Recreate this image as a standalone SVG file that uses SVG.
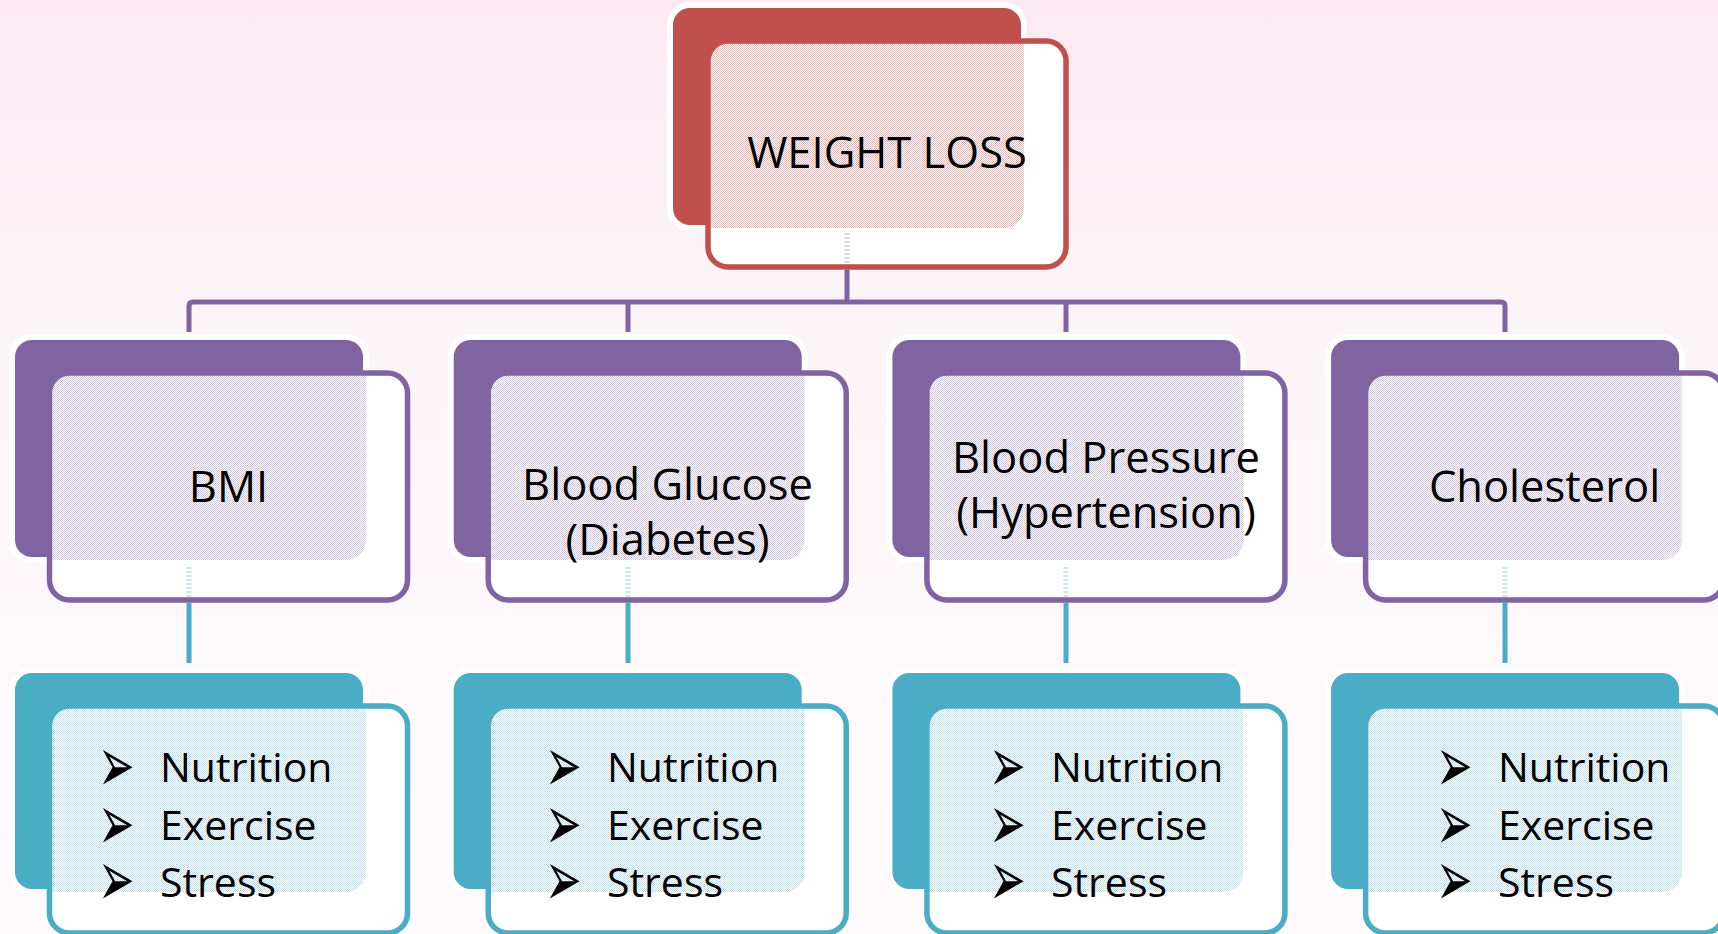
<svg xmlns="http://www.w3.org/2000/svg" width="1718" height="934" viewBox="0 0 1718 934">
<defs>
<linearGradient id="bg" x1="0" y1="0" x2="0" y2="1">
<stop offset="0" stop-color="#FCE9F3"/>
<stop offset="0.3" stop-color="#FBF4F6"/>
<stop offset="1" stop-color="#FFFBFC"/>
</linearGradient>
<pattern id="pR" width="2" height="2" patternUnits="userSpaceOnUse"><rect width="1" height="1" fill="#C0504D" fill-opacity=".4"/><rect x="1" y="1" width="1" height="1" fill="#C0504D" fill-opacity=".4"/></pattern>
<pattern id="pP" width="2" height="2" patternUnits="userSpaceOnUse"><rect width="1" height="1" fill="#8064A2" fill-opacity=".35"/><rect x="1" y="1" width="1" height="1" fill="#8064A2" fill-opacity=".35"/></pattern>
<pattern id="pT" width="2" height="2" patternUnits="userSpaceOnUse"><rect width="1" height="1" fill="#4BACC6" fill-opacity=".35"/><rect x="1" y="1" width="1" height="1" fill="#4BACC6" fill-opacity=".35"/></pattern>
<clipPath id="c0"><rect x="708" y="41" width="358" height="226" rx="20"/></clipPath>
<clipPath id="c1"><rect x="49.5" y="373" width="358" height="227" rx="20"/></clipPath>
<clipPath id="c2"><rect x="488.2" y="373" width="358" height="227" rx="20"/></clipPath>
<clipPath id="c3"><rect x="926.9" y="373" width="358" height="227" rx="20"/></clipPath>
<clipPath id="c4"><rect x="1365.6" y="373" width="358" height="227" rx="20"/></clipPath>
<clipPath id="c5"><rect x="49.5" y="706" width="358" height="227" rx="20"/></clipPath>
<clipPath id="c6"><rect x="488.2" y="706" width="358" height="227" rx="20"/></clipPath>
<clipPath id="c7"><rect x="926.9" y="706" width="358" height="227" rx="20"/></clipPath>
<clipPath id="c8"><rect x="1365.6" y="706" width="358" height="227" rx="20"/></clipPath>
</defs>
<style>
.halo{stroke:#fff;stroke-width:6}
.front{fill:#fff}
.edge{fill:none;stroke-width:5.5}
.red{fill:#C0504D}.pur{fill:#8064A2}.teal{fill:#4BACC6}
.sred{stroke:#C0504D}.spur{stroke:#8064A2}.steal{stroke:#4BACC6}
.t{font-family:"Open Sans","Liberation Sans",sans-serif;font-size:43.5px;fill:#000;text-anchor:middle}
.b{font-family:"Open Sans","Liberation Sans",sans-serif;font-size:41px;fill:#000}
.bul{font-family:"DejaVu Sans",sans-serif;font-size:54px;fill:#000}
.ln{fill:none;stroke-width:5}
.faint{stroke-opacity:.3;stroke-dasharray:2 2}
</style>
<rect width="1718" height="934" fill="url(#bg)"/>

<g id="weight-loss">
<rect class="red halo" x="670" y="5" width="354" height="223" rx="20"/>
<rect class="front" x="708" y="41" width="358" height="226" rx="20"/>
<rect x="670" y="5" width="354" height="223" rx="20" fill="url(#pR)" clip-path="url(#c0)"/>
<rect class="edge sred" x="708" y="41" width="358" height="226" rx="20"/>
<text class="t" x="887" y="168">WEIGHT LOSS</text>
</g>

<g id="bmi">
<rect class="pur halo" x="12" y="337" width="354" height="223" rx="20"/>
<rect class="front" x="49.5" y="373" width="358" height="227" rx="20"/>
<rect x="12" y="337" width="354" height="223" rx="20" fill="url(#pP)" clip-path="url(#c1)"/>
<rect class="edge spur" x="49.5" y="373" width="358" height="227" rx="20"/>
<text class="t" x="228.5" y="502">BMI</text>
</g>

<g id="blood-glucose">
<rect class="pur halo" x="450.7" y="337" width="354" height="223" rx="20"/>
<rect class="front" x="488.2" y="373" width="358" height="227" rx="20"/>
<rect x="450.7" y="337" width="354" height="223" rx="20" fill="url(#pP)" clip-path="url(#c2)"/>
<rect class="edge spur" x="488.2" y="373" width="358" height="227" rx="20"/>
<text class="t" x="667.5" y="500">Blood Glucose</text>
<text class="t" x="667.5" y="555">(Diabetes)</text>
</g>

<g id="blood-pressure">
<rect class="pur halo" x="889.4" y="337" width="354" height="223" rx="20"/>
<rect class="front" x="926.9" y="373" width="358" height="227" rx="20"/>
<rect x="889.4" y="337" width="354" height="223" rx="20" fill="url(#pP)" clip-path="url(#c3)"/>
<rect class="edge spur" x="926.9" y="373" width="358" height="227" rx="20"/>
<text class="t" x="1106" y="473">Blood Pressure</text>
<text class="t" x="1106" y="528">(Hypertension)</text>
</g>

<g id="cholesterol">
<rect class="pur halo" x="1328.1" y="337" width="354" height="223" rx="20"/>
<rect class="front" x="1365.6" y="373" width="358" height="227" rx="20"/>
<rect x="1328.1" y="337" width="354" height="223" rx="20" fill="url(#pP)" clip-path="url(#c4)"/>
<rect class="edge spur" x="1365.6" y="373" width="358" height="227" rx="20"/>
<text class="t" x="1544.5" y="502">Cholesterol</text>
</g>

<g id="bmi-factors">
<rect class="teal halo" x="12" y="670" width="354" height="222" rx="20"/>
<rect class="front" x="49.5" y="706" width="358" height="227" rx="20"/>
<rect x="12" y="670" width="354" height="222" rx="20" fill="url(#pT)" clip-path="url(#c5)"/>
<rect class="edge steal" x="49.5" y="706" width="358" height="227" rx="20"/>
<text class="bul" transform="translate(98 791.5) scale(0.81 1.46)"><tspan x="0" y="0">➢</tspan><tspan x="0" y="39.73">➢</tspan><tspan x="0" y="78.77">➢</tspan></text>
<text class="b" x="160" y="782">Nutrition</text>
<text class="b" x="160" y="840">Exercise</text>
<text class="b" x="160" y="897">Stress</text>
</g>

<g id="glucose-factors">
<rect class="teal halo" x="450.7" y="670" width="354" height="222" rx="20"/>
<rect class="front" x="488.2" y="706" width="358" height="227" rx="20"/>
<rect x="450.7" y="670" width="354" height="222" rx="20" fill="url(#pT)" clip-path="url(#c6)"/>
<rect class="edge steal" x="488.2" y="706" width="358" height="227" rx="20"/>
<text class="bul" transform="translate(545 791.5) scale(0.81 1.46)"><tspan x="0" y="0">➢</tspan><tspan x="0" y="39.73">➢</tspan><tspan x="0" y="78.77">➢</tspan></text>
<text class="b" x="607" y="782">Nutrition</text>
<text class="b" x="607" y="840">Exercise</text>
<text class="b" x="607" y="897">Stress</text>
</g>

<g id="pressure-factors">
<rect class="teal halo" x="889.4" y="670" width="354" height="222" rx="20"/>
<rect class="front" x="926.9" y="706" width="358" height="227" rx="20"/>
<rect x="889.4" y="670" width="354" height="222" rx="20" fill="url(#pT)" clip-path="url(#c7)"/>
<rect class="edge steal" x="926.9" y="706" width="358" height="227" rx="20"/>
<text class="bul" transform="translate(989 791.5) scale(0.81 1.46)"><tspan x="0" y="0">➢</tspan><tspan x="0" y="39.73">➢</tspan><tspan x="0" y="78.77">➢</tspan></text>
<text class="b" x="1051" y="782">Nutrition</text>
<text class="b" x="1051" y="840">Exercise</text>
<text class="b" x="1051" y="897">Stress</text>
</g>

<g id="cholesterol-factors">
<rect class="teal halo" x="1328.1" y="670" width="354" height="222" rx="20"/>
<rect class="front" x="1365.6" y="706" width="358" height="227" rx="20"/>
<rect x="1328.1" y="670" width="354" height="222" rx="20" fill="url(#pT)" clip-path="url(#c8)"/>
<rect class="edge steal" x="1365.6" y="706" width="358" height="227" rx="20"/>
<text class="bul" transform="translate(1436 791.5) scale(0.81 1.46)"><tspan x="0" y="0">➢</tspan><tspan x="0" y="39.73">➢</tspan><tspan x="0" y="78.77">➢</tspan></text>
<text class="b" x="1498" y="782">Nutrition</text>
<text class="b" x="1498" y="840">Exercise</text>
<text class="b" x="1498" y="897">Stress</text>
</g>

<g id="connectors">
<path class="ln spur faint" d="M847 233 V264"/>
<path class="ln spur" d="M847 269.5 V302"/>
<path class="ln spur" d="M189 332 V306 Q189 302 193 302 H1501 Q1505 302 1505 306 V332"/>
<path class="ln spur" d="M628 302 V332 M1066 302 V332"/>
<path class="ln steal faint" d="M189 567 V597 M628 567 V597 M1066 567 V597 M1505 567 V597"/>
<path class="ln steal" d="M189 602.5 V663 M628 602.5 V663 M1066 602.5 V663 M1505 602.5 V663"/>
</g>
</svg>
